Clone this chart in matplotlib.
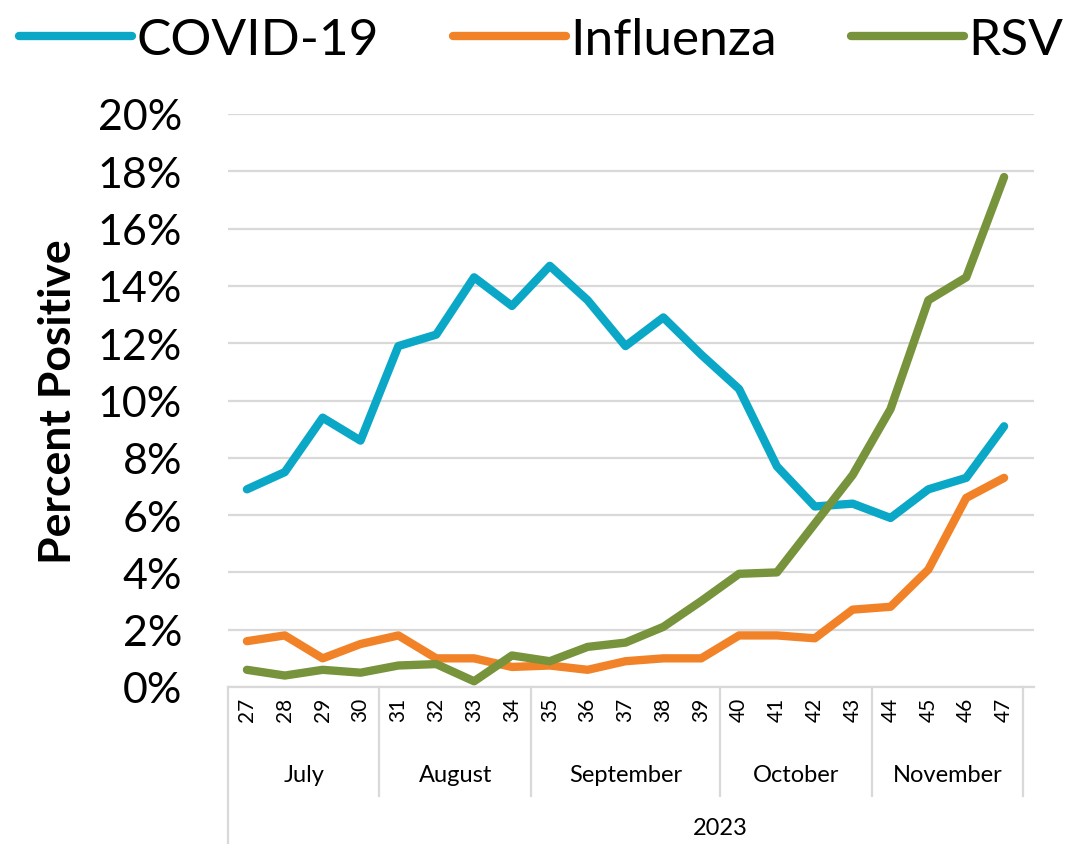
import matplotlib
matplotlib.use("Agg")
import matplotlib.pyplot as plt

plt.rcParams['font.family'] = ['Lato', 'DejaVu Sans']

# weekly percent positive, 2023
weeks = list(range(27, 48))
covid = [6.9, 7.5, 9.4, 8.6, 11.9, 12.3, 14.3, 13.3, 14.7, 13.5, 11.9,
         12.9, 11.6, 10.4, 7.7, 6.3, 6.4, 5.9, 6.9, 7.3, 9.1]
flu = [1.6, 1.8, 1.0, 1.5, 1.8, 1.0, 1.0, 0.7, 0.75, 0.6, 0.9,
       1.0, 1.0, 1.8, 1.8, 1.7, 2.7, 2.8, 4.1, 6.6, 7.3]
rsv = [0.6, 0.4, 0.6, 0.5, 0.75, 0.8, 0.2, 1.1, 0.9, 1.4, 1.55,
       2.1, 3.0, 3.95, 4.0, 5.7, 7.4, 9.7, 13.5, 14.3, 17.8]
months = ["July", "August", "September", "October", "November"]
month_weeks = [4, 4, 5, 4, 4]
year = "2023"

series = [("COVID-19", covid, "#0AA8C6"),
          ("Influenza", flu, "#F28228"),
          ("RSV", rsv, "#77933C")]

fig = plt.figure(figsize=(10.78, 8.45), dpi=100)
ax = fig.add_axes([228/1078, 157/845, (1034-228)/1078, (688-115)/845])

x = list(range(len(weeks)))
for name, vals, col in series:
    ax.plot(x, vals, color=col, lw=6, label=name,
            solid_capstyle='round', solid_joinstyle='round')

ax.set_ylim(0, 20)
ax.set_xlim(-0.5, 20.79)
ax.set_yticks(range(0, 21, 2))
ax.set_yticklabels([f"{v}%" for v in range(0, 21, 2)], fontsize=31)
ax.yaxis.grid(True, color="#D9D9D9", lw=1.6)
ax.set_axisbelow(True)
for s in ["top", "right", "left"]:
    ax.spines[s].set_visible(False)
ax.spines["bottom"].set_color("#D9D9D9")
ax.spines["bottom"].set_linewidth(1.6)
ax.tick_params(axis='y', length=0, pad=33)
ax.tick_params(axis='x', length=0, pad=7)
ax.set_xticks(x)
ax.set_xticklabels([str(w) for w in weeks], rotation=90, fontsize=15)
ax.set_ylabel("Percent Positive", fontsize=32, fontweight='bold', labelpad=14)

# month grouping below the axis
trans = ax.get_xaxis_transform()
start = -0.5
ax.plot([start, start], [0, -0.34], transform=trans, color="#D9D9D9",
        lw=1.6, clip_on=False)
for m, n in zip(months, month_weeks):
    end = start + n
    ax.plot([end, end], [0, -0.19], transform=trans, color="#D9D9D9",
            lw=1.6, clip_on=False)
    ax.text((start + end) / 2, -0.152, m, transform=trans, fontsize=17,
            ha='center', va='center')
    start = end
ax.text(12.5, -0.245, year, transform=trans, fontsize=17,
        ha='center', va='center')

fig.legend(loc='upper center', bbox_to_anchor=(0.502, 1.003), ncol=3,
           frameon=False, fontsize=37, handlelength=2.2, handletextpad=0.08,
           columnspacing=1.45, borderaxespad=0.0)

fig.savefig("out.png", dpi=100)
